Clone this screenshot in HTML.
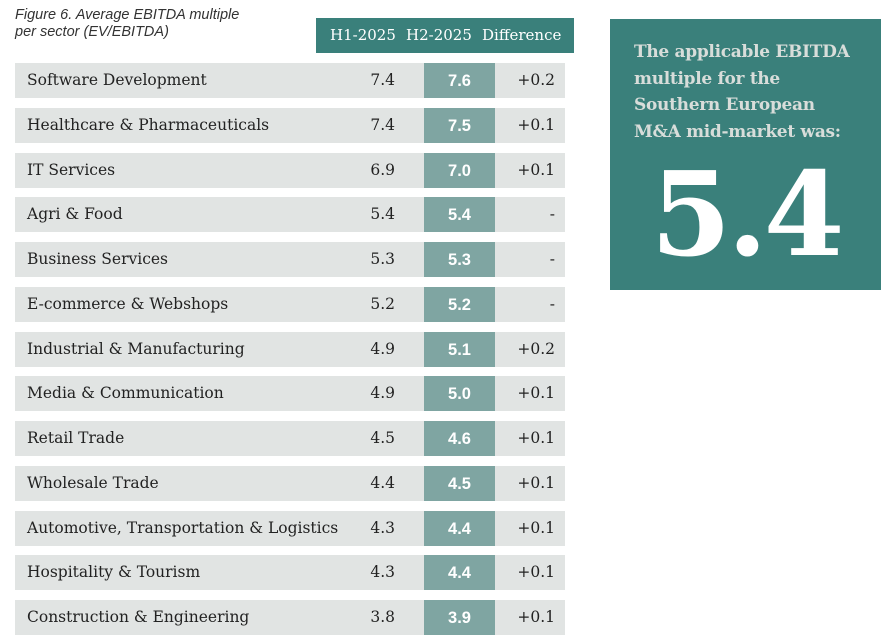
<!DOCTYPE html>
<html><head><meta charset="utf-8"><style>
body{margin:0;width:888px;height:641px;background:#fff;position:relative;overflow:hidden;font-family:"DejaVu Serif","Liberation Serif",serif;}
#title{position:absolute;left:15px;top:7px;font-family:"Liberation Sans",sans-serif;font-style:italic;font-size:14.5px;line-height:17px;color:#333;}
#hdr{position:absolute;left:316px;top:18px;width:258px;height:35px;background:#3a807b;color:#fff;font-size:15px;}
#hdr span{position:absolute;top:8px;}
.row{position:absolute;left:15px;width:550px;height:35px;background:#e1e4e3;font-size:15.5px;color:#222;}
.row .lab{position:absolute;left:12px;top:8px;white-space:nowrap;}
.row .h1{position:absolute;right:170px;top:8px;}
.row .h2{position:absolute;left:409px;width:71px;top:0;height:35px;background:#7fa5a2;color:#fff;font-weight:bold;text-align:center;line-height:36px;font-family:"Liberation Sans",sans-serif;font-size:16.5px;}
.row .df{position:absolute;right:10px;top:8px;}
#panel{position:absolute;left:610px;top:19px;width:271px;height:271px;background:#3a807b;}
#ptxt{position:absolute;left:24px;top:20px;color:#d8ddda;font-weight:bold;font-size:17px;line-height:26.5px;white-space:nowrap;letter-spacing:-0.3px;}
#big{position:absolute;left:0;width:271px;top:138px;text-align:center;color:#fff;font-weight:bold;font-size:116px;line-height:116px;letter-spacing:-4px;}
</style></head><body>
<div id="title">Figure 6. Average EBITDA multiple<br>per sector (EV/EBITDA)</div>
<div id="hdr">
<span style="left:14px">H1-2025</span>
<span style="left:90px">H2-2025</span>
<span style="left:166px">Difference</span>
</div>
<div id="rows"></div>
<div id="panel">
<div id="ptxt">The applicable EBITDA<br>multiple for the<br>Southern European<br>M&amp;A mid-market was:</div>
<div id="big">5.4</div>
</div>
<script>
const sectors=["Software Development","Healthcare & Pharmaceuticals","IT Services","Agri & Food","Business Services","E-commerce & Webshops","Industrial & Manufacturing","Media & Communication","Retail Trade","Wholesale Trade","Automotive, Transportation & Logistics","Hospitality & Tourism","Construction & Engineering"];
const h1Values=[7.4,7.4,6.9,5.4,5.3,5.2,4.9,4.9,4.5,4.4,4.3,4.3,3.8];
const h2Values=[7.6,7.5,7.0,5.4,5.3,5.2,5.1,5.0,4.6,4.5,4.4,4.4,3.9];
const container=document.getElementById('rows');
function rowY(i){return 63+i*44.75;}
sectors.forEach((s,i)=>{
  const r=document.createElement('div');
  r.className='row';
  r.style.top=rowY(i)+'px';
  
  
  const d=Math.round((h2Values[i]-h1Values[i])*10)/10;
  const dt=d===0?'-':(d>0?'+':'')+d.toFixed(1);
  const lab=document.createElement('span');lab.className='lab';lab.textContent=s;
  
  
  const a=document.createElement('span');a.className='h1';a.textContent=h1Values[i].toFixed(1);
  
  
  const b=document.createElement('span');b.className='h2';b.textContent=h2Values[i].toFixed(1);
  
  
  const c=document.createElement('span');c.className='df';c.textContent=dt;
  
  
  r.append(lab,a,b,c);
  container.appendChild(r);
});
</script>
</body></html>
